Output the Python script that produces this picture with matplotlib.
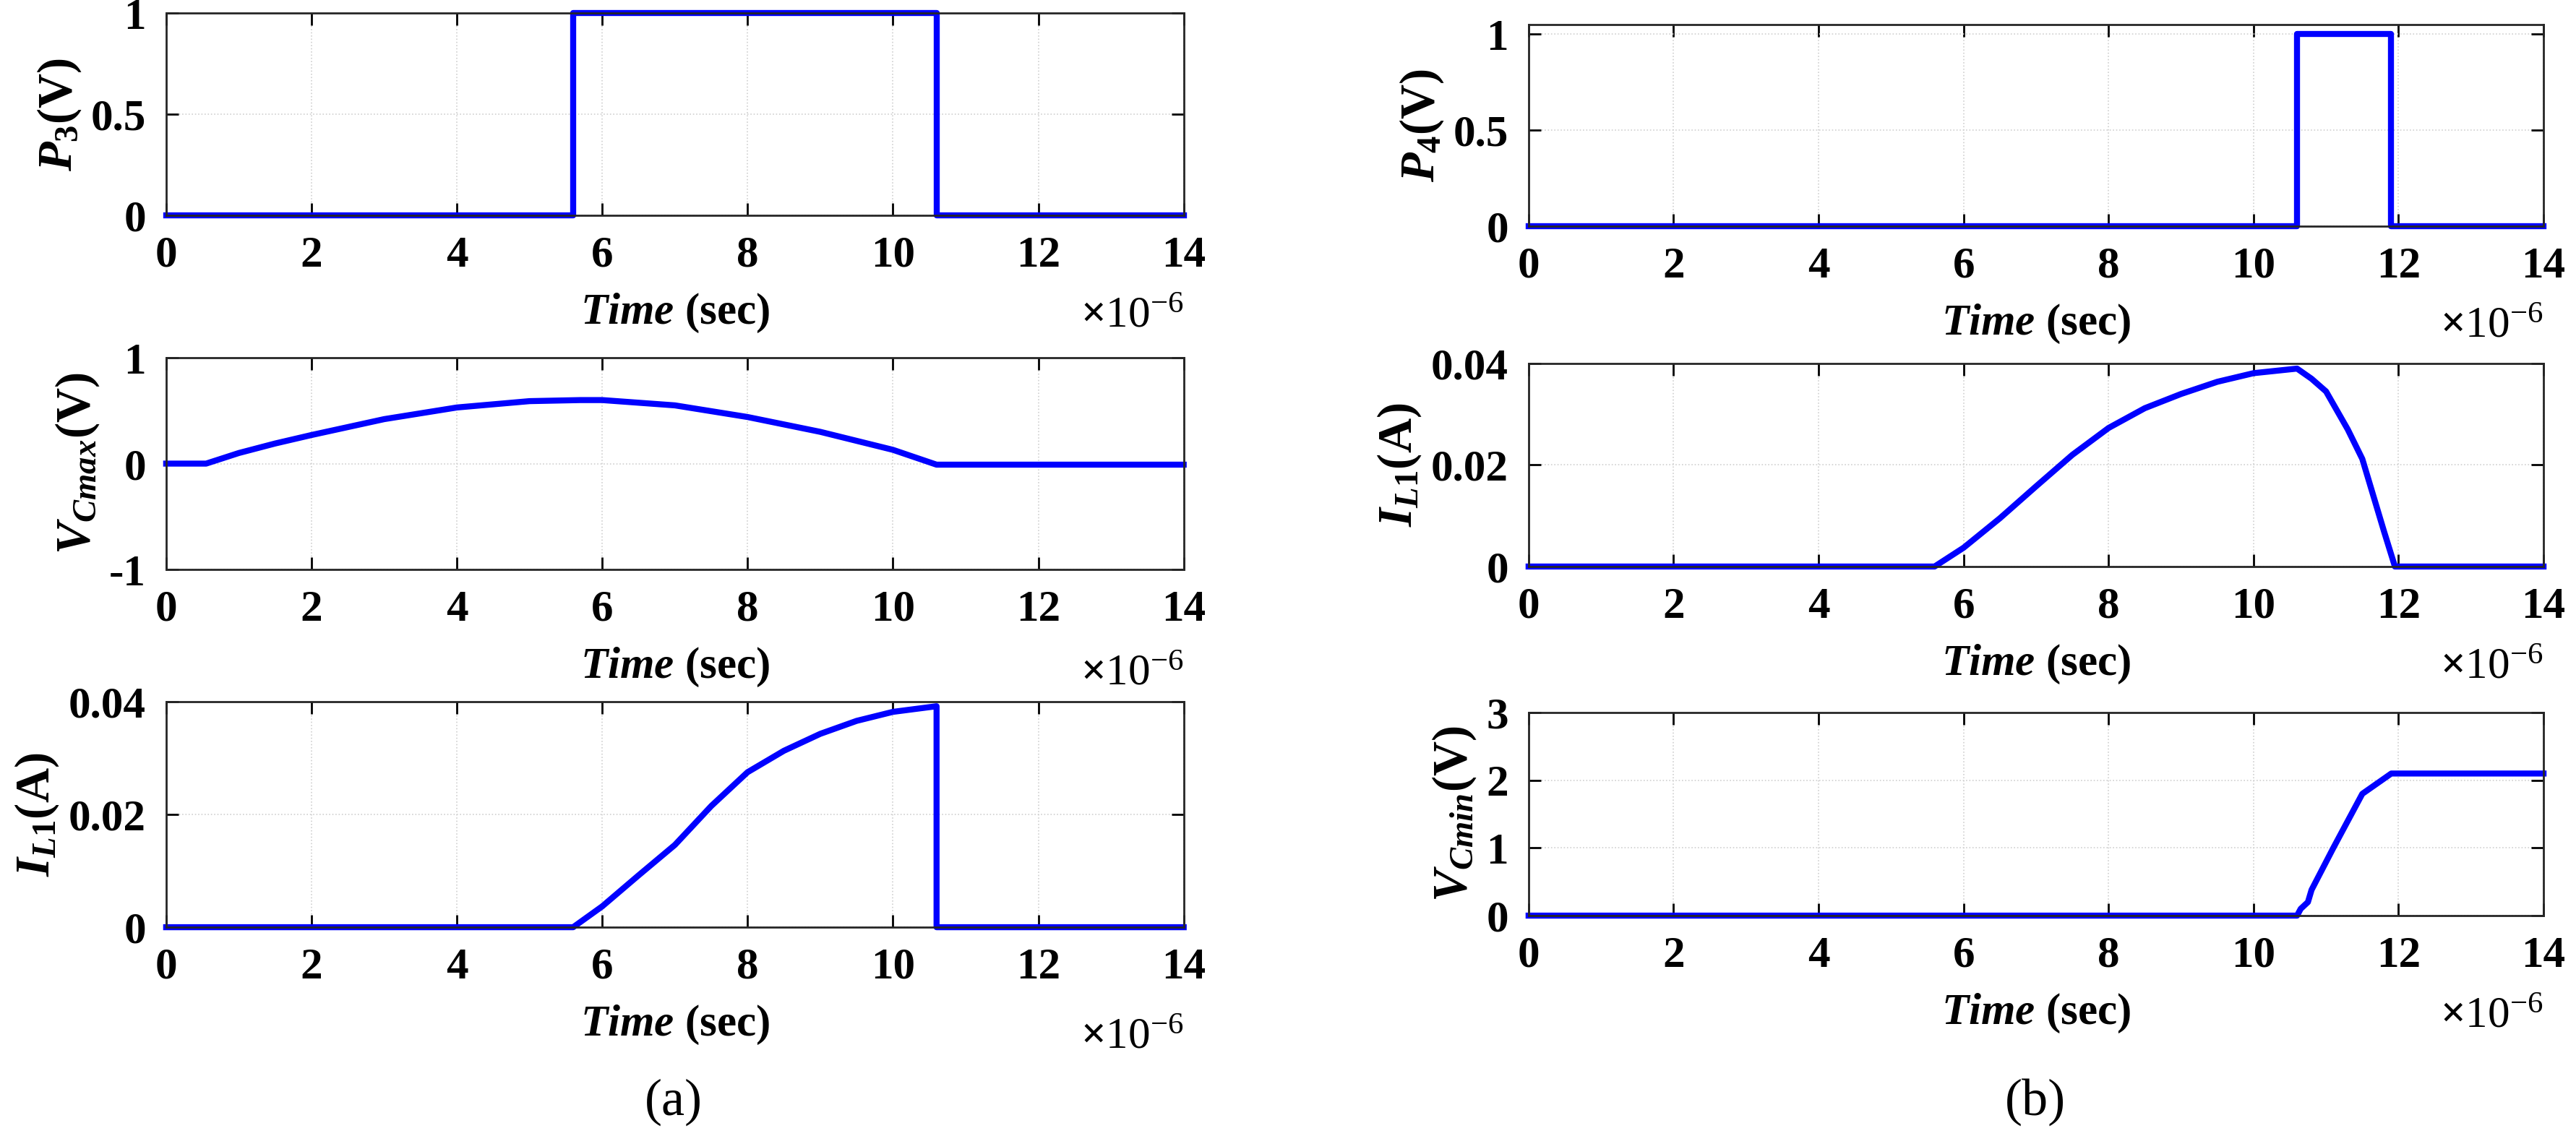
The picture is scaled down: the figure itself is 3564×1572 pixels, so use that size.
import matplotlib
matplotlib.use("Agg")
import matplotlib.pyplot as plt
import numpy as np

plt.rcParams['font.family'] = ['Liberation Serif', 'DejaVu Serif']
plt.rcParams['font.weight'] = 'bold'
plt.rcParams['mathtext.fontset'] = 'custom'
plt.rcParams['mathtext.rm'] = 'Liberation Serif:bold'
plt.rcParams['mathtext.it'] = 'Liberation Serif:bold:italic'
plt.rcParams['mathtext.bf'] = 'Liberation Serif:bold'

# Data (time in microseconds)
p3_t = [0, 5.6, 5.6, 10.6, 10.6, 14]
p3_v = [0, 0, 1, 1, 0, 0]

vcmax_t = [0, 0.55, 1, 1.5, 2, 3, 4, 5, 5.7, 6, 7, 8, 9, 10, 10.6, 14]
vcmax_v = [0, 0, 0.1, 0.19, 0.27, 0.42, 0.53, 0.59, 0.6, 0.6, 0.55, 0.44, 0.3, 0.13, -0.01, -0.01]

il1a_t = [0, 5.6, 6, 6.5, 7, 7.5, 8, 8.5, 9, 9.5, 10, 10.6, 10.6, 14]
il1a_v = [0, 0, 0.0037, 0.0092, 0.0146, 0.0215, 0.0275, 0.0313, 0.0343, 0.0366, 0.0382, 0.0392, 0, 0]

p4_t = [0, 10.6, 10.6, 11.9, 11.9, 14]
p4_v = [0, 0, 1, 1, 0, 0]

il1b_t = [0, 5.6, 6, 6.5, 7, 7.5, 8, 8.5, 9, 9.5, 10, 10.6, 10.8, 11.0, 11.3, 11.5, 11.8, 11.95, 14]
il1b_v = [0, 0, 0.0037, 0.0095, 0.0158, 0.0220, 0.0273, 0.0312, 0.0340, 0.0364, 0.0381, 0.039, 0.037, 0.0345, 0.027, 0.0212, 0.0069, 0, 0]

vcmin_t = [0, 10.6, 10.65, 10.75, 10.8, 11.1, 11.5, 11.9, 14]
vcmin_v = [0, 0, 0.1, 0.2, 0.38, 1.0, 1.8, 2.1, 2.1]

xticks = [0, 2, 4, 6, 8, 10, 12, 14]

fig = plt.figure(figsize=(17.82, 7.86), dpi=200)

panels = [
    ([0.0645, 0.8104, 0.395, 0.178], p3_t, p3_v, (0, 1), [0, 0.5, 1], ['0', '0.5', '1'], r'$P_{3}$(V)'),
    ([0.0645, 0.4987, 0.395, 0.1864], vcmax_t, vcmax_v, (-1, 1), [-1, 0, 1], ['-1', '0', '1'], r'$V_{Cmax}$(V)'),
    ([0.0645, 0.1838, 0.395, 0.1985], il1a_t, il1a_v, (0, 0.04), [0, 0.02, 0.04], ['0', '0.02', '0.04'], r'$I_{L1}$(A)'),
    ([0.5934, 0.801, 0.394, 0.1775], p4_t, p4_v, (0, 1.05), [0, 0.5, 1], ['0', '0.5', '1'], r'$P_{4}$(V)'),
    ([0.5934, 0.5013, 0.394, 0.1787], il1b_t, il1b_v, (0, 0.04), [0, 0.02, 0.04], ['0', '0.02', '0.04'], r'$I_{L1}$(A)'),
    ([0.5934, 0.194, 0.394, 0.1787], vcmin_t, vcmin_v, (0, 3), [0, 1, 2, 3], ['0', '1', '2', '3'], r'$V_{Cmin}$(V)'),
]

for rect, t, v, yl, yt, ytl, lab in panels:
    ax = fig.add_axes(rect)
    ax.plot(t, v, color='#0000ff', lw=3.0, solid_joinstyle='round', clip_on=False)
    ax.set_xlim(0, 14)
    ax.set_ylim(*yl)
    ax.set_xticks(xticks)
    ax.set_xticklabels([str(x) for x in xticks])
    ax.set_yticks(yt)
    ax.set_yticklabels(ytl)
    ax.grid(True, color='#d0d0d0', lw=0.6, ls=':')
    ax.tick_params(direction='in', top=True, right=True, length=6, width=1,
                   labelsize=22, pad=10)
    for s in ax.spines.values():
        s.set_linewidth(1.0)
        s.set_color('#262626')
    ax.set_xlabel(r'$Time$ (sec)', fontsize=22, fontweight='bold', labelpad=8)
    ax.set_ylabel(lab, fontsize=24, fontweight='bold', labelpad=4)
    ax.text(1.0, -0.40, r'$\times$10$^{\mathregular{-6}}$', transform=ax.transAxes,
            ha='right', va='top', fontsize=22, fontweight='normal')

fig.text(0.2615, 0.03, '(a)', ha='center', va='center', fontsize=26, fontweight='normal')
fig.text(0.790, 0.03, '(b)', ha='center', va='center', fontsize=26, fontweight='normal')

fig.savefig('out.png', dpi=200)
